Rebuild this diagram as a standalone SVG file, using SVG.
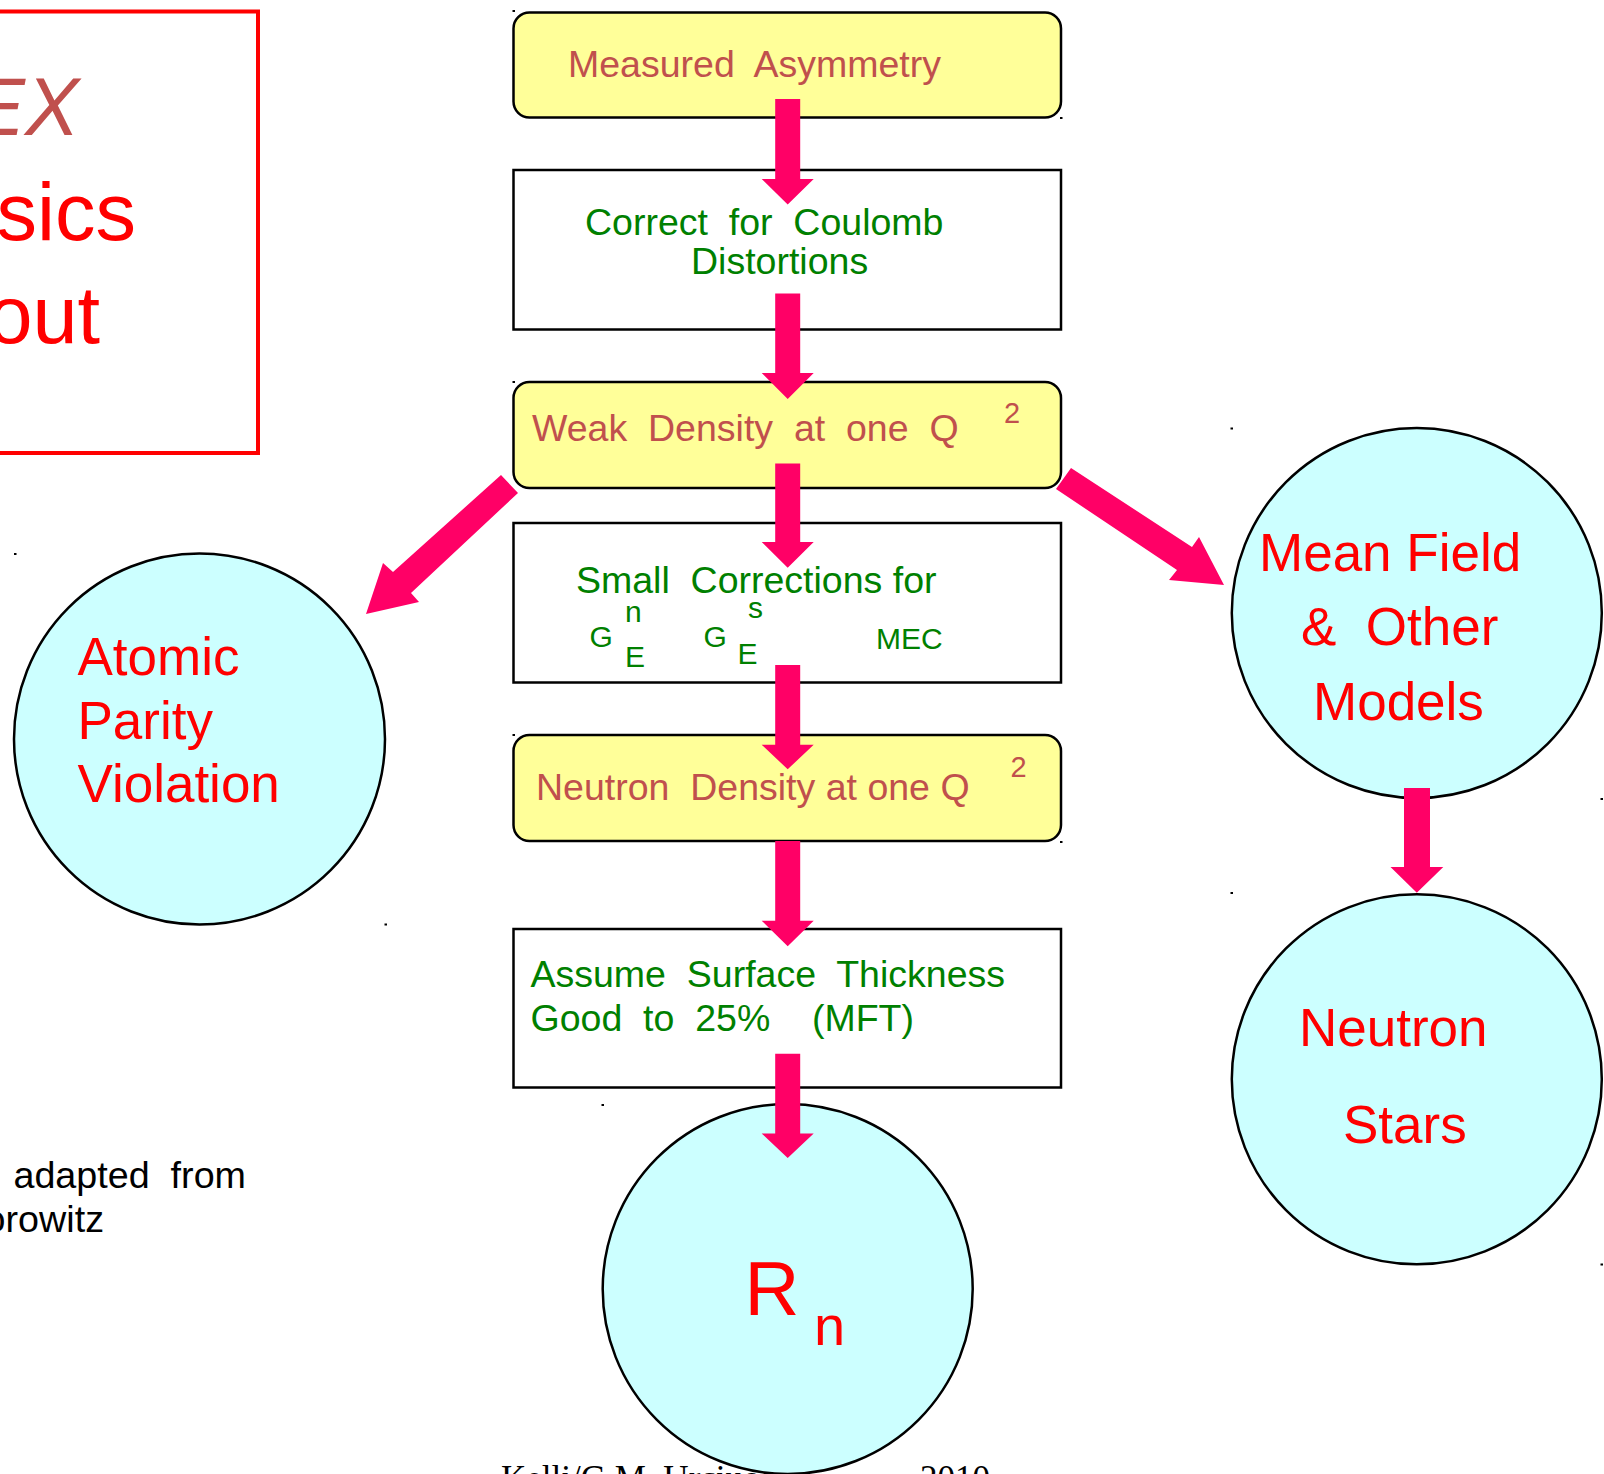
<svg xmlns="http://www.w3.org/2000/svg" width="1604" height="1474" viewBox="0 0 1604 1474">
<style>
text{font-family:"Liberation Sans",Arial,sans-serif;white-space:pre}
.box{fill:#FFFFFF;stroke:#000;stroke-width:2.5}
.ybox{fill:#FFFF99;stroke:#000;stroke-width:2.5}
.circ{fill:#CCFFFF;stroke:#000;stroke-width:2.5}
.brn{fill:#C0504D;font-size:37.5px}
.grn{fill:#008000;font-size:37.5px}
.sm{fill:#008000;font-size:30px}
.red{fill:#FF0000;font-size:53px}
.arr{fill:#FF0066}
.dot{fill:#000}
</style>
<rect width="1604" height="1474" fill="#FFFFFF"/>

<g id="title-box">
<rect x="-10" y="11.5" width="268" height="441.5" fill="none" stroke="#FF0000" stroke-width="4"/>
<text x="79" y="135" text-anchor="end" style="font-size:81px;font-style:italic;fill:#C0504D">PREX</text>
<text x="136" y="240" text-anchor="end" style="font-size:81px;fill:#FF0000">Physics</text>
<text x="100" y="343" text-anchor="end" style="font-size:81px;fill:#FF0000">About</text>
</g>

<g id="note">
<text x="246" y="1188" text-anchor="end" style="font-size:37.7px;fill:#000">Figure  adapted  from</text>
<text x="104" y="1232" text-anchor="end" style="font-size:37.7px;fill:#000">C. J. Horowitz</text>
</g>

<g id="footer">
<text x="501" y="1490" style="font-family:'Liberation Serif',serif;font-size:35px;fill:#000">Kelli/G.M. Urciuoli                2010</text>
</g>

<g id="measured-asymmetry">
<rect class="ybox" x="513.5" y="12.5" width="547.5" height="105" rx="16"/>
<text class="brn" x="568" y="76.5">Measured  Asymmetry</text>
</g>

<g id="coulomb">
<rect class="box" x="513.5" y="170" width="547.5" height="159.5"/>
<text class="grn" x="585" y="235">Correct  for  Coulomb</text>
<text class="grn" x="691" y="274">Distortions</text>
</g>

<g id="weak-density">
<rect class="ybox" x="513.5" y="382" width="547.5" height="106" rx="16"/>
<text class="brn" x="532" y="440.5">Weak  Density  at  one  Q</text>
<text class="brn" x="1004" y="423" style="font-size:29px">2</text>
</g>

<g id="small-corrections">
<rect class="box" x="513.5" y="523" width="547.5" height="159.5"/>
<text class="grn" x="576" y="592.5">Small  Corrections for</text>
<text class="sm" x="589.5" y="647">G</text>
<text class="sm" x="625" y="621.5">n</text>
<text class="sm" x="625" y="667">E</text>
<text class="sm" x="703.5" y="647">G</text>
<text class="sm" x="748" y="618">s</text>
<text class="sm" x="737.5" y="663.5">E</text>
<text class="sm" x="876" y="648.5">MEC</text>
</g>

<g id="neutron-density">
<rect class="ybox" x="513.5" y="735" width="547.5" height="106" rx="16"/>
<text class="brn" x="536" y="800">Neutron  Density at one Q</text>
<text class="brn" x="1010.5" y="777" style="font-size:29px">2</text>
</g>

<g id="surface-thickness">
<rect class="box" x="513.5" y="929" width="547.5" height="158.5"/>
<text class="grn" x="530.5" y="987">Assume  Surface  Thickness</text>
<text class="grn" x="530.5" y="1030.5">Good  to  25%    (MFT)</text>
</g>

<g id="rn">
<circle class="circ" cx="787.7" cy="1289" r="185"/>
<text x="744.5" y="1314.5" style="font-size:76px;fill:#FF0000">R</text>
<text x="814" y="1345" style="font-size:56px;fill:#FF0000">n</text>
</g>

<g id="atomic-parity">
<circle class="circ" cx="199.5" cy="739" r="185.5"/>
<text class="red" x="77.5" y="675">Atomic</text>
<text class="red" x="77.5" y="738.5">Parity</text>
<text class="red" x="77.5" y="802">Violation</text>
</g>

<g id="mean-field">
<circle class="circ" cx="1416.8" cy="613" r="185"/>
<text class="red" x="1259" y="570.5">Mean Field</text>
<text class="red" x="1301" y="645">&amp;  Other</text>
<text class="red" x="1313" y="720">Models</text>
</g>

<g id="neutron-stars">
<circle class="circ" cx="1416.8" cy="1079.3" r="185"/>
<text class="red" x="1299" y="1045.5">Neutron</text>
<text class="red" x="1343" y="1142.5">Stars</text>
</g>

<g id="connectors">
<polygon class="arr" points="775.2,99 800.2,99 800.2,179 813.7,179 787.7,204.6 761.7,179 775.2,179"/>
<polygon class="arr" points="775.2,293.6 800.2,293.6 800.2,373 813.7,373 787.7,399 761.7,373 775.2,373"/>
<polygon class="arr" points="775.2,463.4 800.2,463.4 800.2,542 813.7,542 787.7,567.8 761.7,542 775.2,542"/>
<polygon class="arr" points="775.2,665 800.2,665 800.2,744.7 813.7,744.7 787.7,769.3 761.7,744.7 775.2,744.7"/>
<polygon class="arr" points="775.2,841 800.2,841 800.2,920.7 813.7,920.7 787.7,946.3 761.7,920.7 775.2,920.7"/>
<polygon class="arr" points="775.2,1053.7 800.2,1053.7 800.2,1133.5 813.7,1133.5 787.7,1158 761.7,1133.5 775.2,1133.5"/>
<polygon class="arr" points="1404,788 1430,788 1430,867 1443.3,867 1416.8,892.8 1390.5,867 1404,867"/>
<polygon class="arr" points="501,475 393,572 383,563 366,614 419,602 411,593 518,493"/>
<polygon class="arr" points="1071,468 1192,547 1199,537 1224,585 1169,580 1177,570 1056,489"/>
</g>

<g id="marks">
<rect class="dot" x="512.5" y="10" width="2.5" height="2"/>
<rect class="dot" x="1060" y="117" width="2.5" height="2"/>
<rect class="dot" x="512.5" y="381" width="2.5" height="2"/>
<rect class="dot" x="512.5" y="734" width="2.5" height="2"/>
<rect class="dot" x="1060" y="841" width="2.5" height="2"/>
<rect class="dot" x="1230.5" y="427.5" width="2.5" height="2"/>
<rect class="dot" x="1230.5" y="892" width="2.5" height="2"/>
<rect class="dot" x="1600.5" y="798" width="2.5" height="2"/>
<rect class="dot" x="1600.5" y="1263.5" width="2.5" height="2"/>
<rect class="dot" x="14" y="553" width="2.5" height="2"/>
<rect class="dot" x="384.5" y="923.5" width="2.5" height="2"/>
<rect class="dot" x="601.5" y="1104" width="2.5" height="2"/>
</g>
</svg>
